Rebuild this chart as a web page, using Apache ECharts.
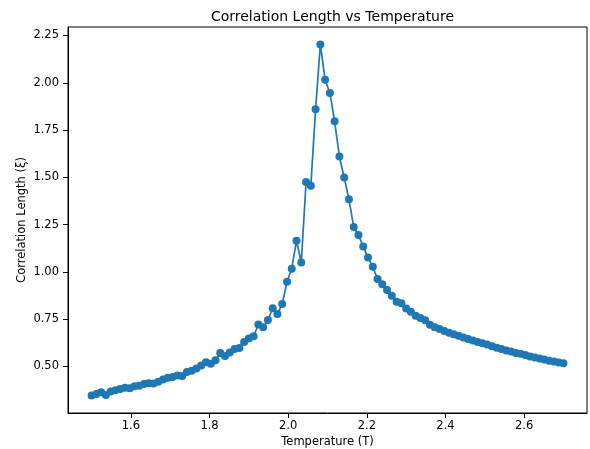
<!DOCTYPE html>
<html>
<head>
<meta charset="utf-8">
<script src="https://cdn.jsdelivr.net/npm/echarts@6/dist/echarts.min.js"></script>
<style>html,body{margin:0;padding:0;background:#fff}#c{width:590px;height:449px}</style>
</head>
<body>
<div id="c"></div>
<script>
const temperatures = [
1.5000,1.5121,1.5242,1.5364,1.5485,1.5606,1.5727,1.5848,1.5970,1.6091,
1.6212,1.6333,1.6455,1.6576,1.6697,1.6818,1.6939,1.7061,1.7182,1.7303,
1.7424,1.7545,1.7667,1.7788,1.7909,1.8030,1.8152,1.8273,1.8394,1.8515,
1.8636,1.8758,1.8879,1.9000,1.9121,1.9242,1.9364,1.9485,1.9606,1.9727,
1.9848,1.9970,2.0091,2.0212,2.0333,2.0455,2.0576,2.0697,2.0818,2.0939,
2.1061,2.1182,2.1303,2.1424,2.1545,2.1667,2.1788,2.1909,2.2030,2.2152,
2.2273,2.2394,2.2515,2.2636,2.2758,2.2879,2.3000,2.3121,2.3242,2.3364,
2.3485,2.3606,2.3727,2.3848,2.3970,2.4091,2.4212,2.4333,2.4455,2.4576,
2.4697,2.4818,2.4939,2.5061,2.5182,2.5303,2.5424,2.5545,2.5667,2.5788,
2.5909,2.6030,2.6152,2.6273,2.6394,2.6515,2.6636,2.6758,2.6879,2.7000
];
const correlationLength = [
0.347,0.355,0.364,0.349,0.368,0.374,0.381,0.388,0.385,0.395,
0.398,0.407,0.411,0.410,0.420,0.431,0.440,0.445,0.452,0.450,
0.471,0.477,0.490,0.505,0.522,0.515,0.533,0.572,0.555,0.574,
0.592,0.598,0.630,0.648,0.660,0.722,0.707,0.746,0.808,0.778,
0.830,0.948,1.017,1.165,1.050,1.475,1.455,1.860,2.202,2.016,
1.946,1.796,1.610,1.499,1.384,1.238,1.195,1.134,1.076,1.027,
0.962,0.935,0.904,0.874,0.843,0.834,0.807,0.790,0.769,0.757,
0.745,0.721,0.707,0.698,0.688,0.679,0.671,0.662,0.653,0.645,
0.638,0.630,0.623,0.616,0.607,0.599,0.592,0.585,0.579,0.572,
0.567,0.561,0.553,0.548,0.543,0.537,0.531,0.526,0.521,0.517
];
const xTicks = [1.6, 1.8, 2.0, 2.2, 2.4, 2.6];
const yTicks = [0.50, 0.75, 1.00, 1.25, 1.50, 1.75, 2.00, 2.25];

const FONT = '"DejaVu Sans", sans-serif';
const xMinD = Math.min(...temperatures), xMaxD = Math.max(...temperatures);
const yMinD = Math.min(...correlationLength), yMaxD = Math.max(...correlationLength);
const xPad = (xMaxD - xMinD) * 0.05, yPad = (yMaxD - yMinD) * 0.05;

const chart = echarts.init(document.getElementById('c'), null, {renderer: 'canvas'});
chart.setOption({
  animation: false,
  backgroundColor: '#fff',
  title: {
    text: 'Correlation Length vs Temperature',
    left: 327.5, top: 5, textAlign: 'center',
    textStyle: {fontFamily: FONT, fontSize: 14, fontWeight: 'normal', color: '#000'}
  },
  grid: {left: 68, top: 27, width: 519, height: 386, show: true, borderColor: '#000', borderWidth: 1,
    backgroundColor: 'transparent', containLabel: false, outerBoundsMode: 'none'},
  xAxis: {
    type: 'value', min: xMinD - xPad, max: xMaxD + xPad,
    name: 'Temperature (T)', nameLocation: 'middle', nameGap: 23, nameMoveOverlap: false,
    nameTextStyle: {fontFamily: FONT, fontSize: 11.5, color: '#000'},
    axisLine: {show: true, onZero: false, lineStyle: {color: '#000', width: 1}},
    axisTick: {show: true, length: 5, customValues: xTicks, lineStyle: {color: '#000'}},
    axisLabel: {customValues: xTicks, margin: 7, fontFamily: FONT, fontSize: 11.5, color: '#000',
      formatter: v => v.toFixed(1)},
    splitLine: {show: false}
  },
  yAxis: {
    type: 'value', min: yMinD - yPad, max: yMaxD + yPad,
    name: 'Correlation Length (ξ)', nameLocation: 'middle', nameGap: 40, nameMoveOverlap: false,
    nameTextStyle: {fontFamily: FONT, fontSize: 11.5, color: '#000'},
    axisLine: {show: true, onZero: false, lineStyle: {color: '#000', width: 1}},
    axisTick: {show: true, length: 5, customValues: yTicks, lineStyle: {color: '#000'}},
    axisLabel: {customValues: yTicks, margin: 9, fontFamily: FONT, fontSize: 11.5, color: '#000',
      formatter: v => v.toFixed(2)},
    splitLine: {show: false}
  },
  series: [{
    type: 'line',
    data: temperatures.map((t, i) => [t, correlationLength[i]]),
    symbol: 'circle', symbolSize: 8, showAllSymbol: true,
    itemStyle: {color: '#1f77b4'},
    lineStyle: {color: '#1f77b4', width: 1.7},
    emphasis: {disabled: true}
  }]
});
</script>
</body>
</html>
